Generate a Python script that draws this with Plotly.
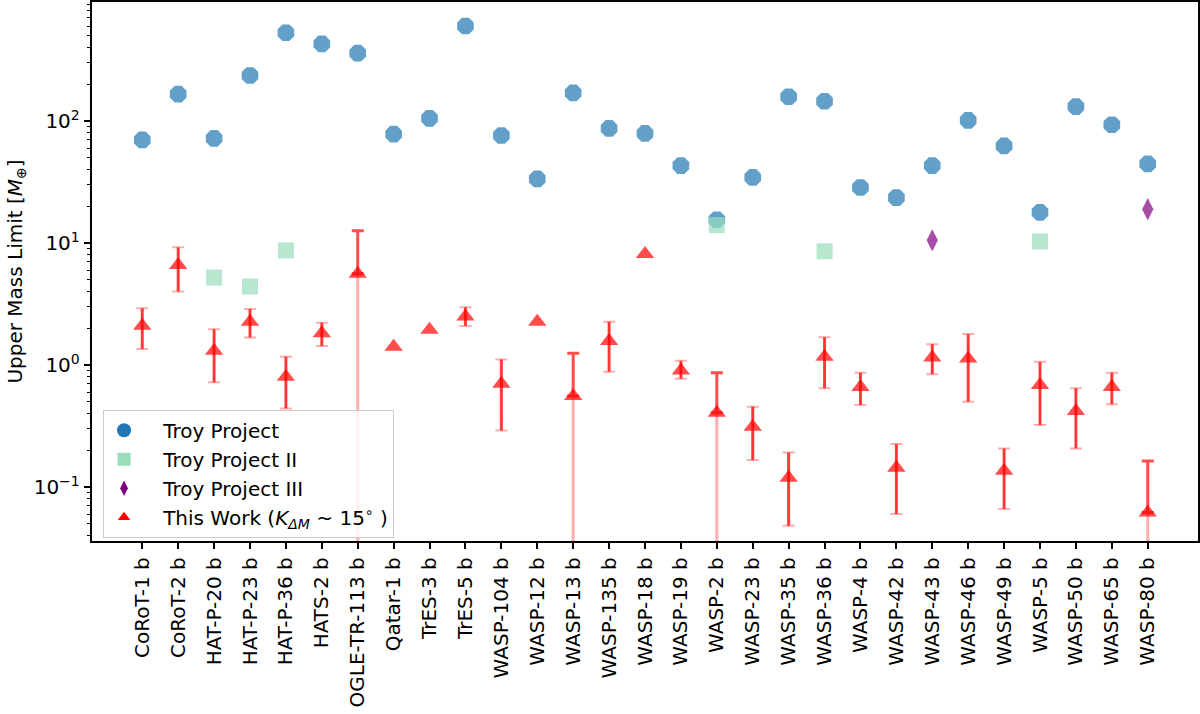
import plotly.graph_objects as go

# ---------------- data ----------------
planets = ["CoRoT-1 b", "CoRoT-2 b", "HAT-P-20 b", "HAT-P-23 b", "HAT-P-36 b", "HATS-2 b",
           "OGLE-TR-113 b", "Qatar-1 b", "TrES-3 b", "TrES-5 b", "WASP-104 b", "WASP-12 b",
           "WASP-13 b", "WASP-135 b", "WASP-18 b", "WASP-19 b", "WASP-2 b", "WASP-23 b",
           "WASP-35 b", "WASP-36 b", "WASP-4 b", "WASP-42 b", "WASP-43 b", "WASP-46 b",
           "WASP-49 b", "WASP-5 b", "WASP-50 b", "WASP-65 b", "WASP-80 b"]

troy_mass = [70, 166, 72, 236, 528, 428, 360, 78, 105, 600, 76, 33.5,
             170, 87, 79, 43, 15.5, 34.5, 158, 145, 28.5, 23.5, 43, 101,
             62.5, 17.8, 131, 93, 44.5]

troy2_mass = [None, None, 5.2, 4.4, 8.7, None, None, None, None, None, None, None,
              None, None, None, None, 14.0, None, None, 8.55, None, None, None, None,
              None, 10.3, None, None, None]

troy3_mass = [None] * 22 + [10.5] + [None] * 5 + [18.9]

work_mass = [2.1, 6.6, 1.31, 2.26, 0.80, 1.82, 5.6, 1.41, 1.94, 2.49, 0.70, 2.26,
             0.557, 1.57, 8.13, 0.90, 0.406, 0.312, 0.119, 1.17, 0.66, 0.144, 1.15, 1.13,
             0.136, 0.685, 0.42, 0.66, 0.0617]
# lower / upper ends of the error bars (0 = lower end below zero)
work_low = [1.35, 4.0, 0.72, 1.68, 0.44, 1.43, 0, None, None, 2.09, 0.29, None,
            0, 0.88, None, 0.77, 0, 0.166, 0.048, 0.644, 0.47, 0.060, 0.84, 0.50,
            0.066, 0.322, 0.207, 0.476, 0]
work_high = [2.92, 9.2, 1.96, 2.88, 1.17, 2.22, 12.6, None, None, 2.97, 1.11, None,
             1.25, 2.26, None, 1.08, 0.865, 0.455, 0.192, 1.69, 0.865, 0.225, 1.48, 1.79,
             0.207, 1.06, 0.644, 0.865, 0.163]

ytick_vals = [0.1, 1, 10, 100]
ytick_text = ["10<sup>\u22121</sup>", "10<sup>0</sup>", "10<sup>1</sup>", "10<sup>2</sup>"]

legend_names = ["Troy Project", "Troy Project II", "Troy Project III",
                "This Work (<i>K</i><sub><i>\u0394M</i></sub> ~ 15<sup>\u2218</sup> )"]

# ---------------- style ----------------
FONT = "DejaVu Sans"
FS = 20
BLUE = "rgba(31,119,180,0.7)"
GREEN = "rgba(153,221,187,0.7)"
PURPLE = "rgba(128,0,128,0.7)"
RED = "rgba(255,0,0,0.7)"
LIGHT_RED = "rgba(255,0,0,0.32)"
FLOOR = 1e-3

fig = go.Figure()


def sub(vals):
    xs = [p for p, v in zip(planets, vals) if v is not None]
    ys = [v for v in vals if v is not None]
    return xs, ys


x, y = sub(troy_mass)
fig.add_trace(go.Scatter(x=x, y=y, mode="markers", showlegend=False, hoverinfo="skip",
                         marker=dict(symbol="octagon", size=18, color=BLUE, line=dict(width=0))))
x, y = sub(troy2_mass)
fig.add_trace(go.Scatter(x=x, y=y, mode="markers", showlegend=False, hoverinfo="skip",
                         marker=dict(symbol="square", size=16, color=GREEN, line=dict(width=0))))
x, y = sub(troy3_mass)
fig.add_trace(go.Scatter(x=x, y=y, mode="markers", showlegend=False, hoverinfo="skip",
                         marker=dict(symbol="diamond-tall", size=16, color=PURPLE, line=dict(width=0))))

has_err = [i for i in range(len(planets)) if work_high[i] is not None]
normal = [i for i in has_err if work_low[i] > 0]
clipped = [i for i in has_err if work_low[i] <= 0]


def err_trace(idx, plus, minus, color, thick, width):
    return go.Scatter(
        x=[planets[i] for i in idx], y=[work_mass[i] for i in idx],
        mode="markers", marker=dict(size=1, opacity=0), showlegend=False, hoverinfo="skip",
        error_y=dict(type="data", symmetric=False, array=plus, arrayminus=minus,
                     color=color, thickness=thick, width=width))


# normal error bars: light full bar with caps, darker bar on top
fig.add_trace(err_trace(normal,
                        [work_high[i] - work_mass[i] for i in normal],
                        [work_mass[i] - work_low[i] for i in normal],
                        LIGHT_RED, 2, 6))
fig.add_trace(err_trace(normal,
                        [work_high[i] - work_mass[i] for i in normal],
                        [work_mass[i] - work_low[i] for i in normal],
                        RED, 3, 0))
# clipped error bars: light lower part to the bottom, dark upper part with cap
fig.add_trace(err_trace(clipped,
                        [0 for i in clipped],
                        [work_mass[i] - FLOOR for i in clipped],
                        LIGHT_RED, 3, 0))
fig.add_trace(err_trace(clipped,
                        [work_high[i] - work_mass[i] for i in clipped],
                        [0 for i in clipped],
                        RED, 3, 6))

fig.add_trace(go.Scatter(x=planets, y=work_mass, mode="markers", showlegend=False, hoverinfo="skip",
                         marker=dict(symbol="triangle-up", size=16, color=RED, line=dict(width=0))))

# legend entries
PAD = "\u00a0\u00a0\u00a0"
legend_markers = [
    dict(symbol="circle", size=14, color="rgb(31,119,180)"),
    dict(symbol="square", size=13, color="rgb(153,221,187)"),
    dict(symbol="diamond-tall", size=11, color="rgb(128,0,128)"),
    dict(symbol="triangle-up", size=11, color="rgb(255,0,0)"),
]
for name, mk in zip(legend_names, legend_markers):
    fig.add_trace(go.Scatter(x=[None], y=[None], mode="markers", name=PAD + name,
                             marker=dict(line=dict(width=0), **mk)))

minor_vals = [m * 10 ** k for k in range(-2, 3) for m in range(2, 10)]

fig.update_layout(
    width=1200, height=714,
    margin=dict(l=92, r=2, t=2, b=173),
    paper_bgcolor="white", plot_bgcolor="white",
    font=dict(family=FONT, size=FS, color="black"),
    legend=dict(x=0.01, y=0.006, xanchor="left", yanchor="bottom",
                bgcolor="rgba(255,255,255,0.8)", bordercolor="#cccccc", borderwidth=1,
                font=dict(family=FONT, size=FS), traceorder="normal"),
)
fig.update_xaxes(type="category", categoryorder="array", categoryarray=planets,
                 range=[-1.4, 29.4], tickangle=-90, tickfont=dict(size=FS),
                 ticks="outside", ticklen=6.5, tickwidth=1.5, tickcolor="black",
                 showline=True, mirror=True, linecolor="black", linewidth=1.5,
                 showgrid=False, zeroline=False, automargin=False)
fig.update_yaxes(type="log", range=[-1.443, 2.975],
                 tickmode="array", tickvals=ytick_vals, ticktext=ytick_text,
                 tickfont=dict(size=FS),
                 ticks="outside", ticklen=6.5, tickwidth=1.5, tickcolor="black",
                 minor=dict(tickmode="array", tickvals=minor_vals, ticks="outside",
                            ticklen=3.7, tickwidth=1.1, tickcolor="black", showgrid=False),
                 showline=True, mirror=True, linecolor="black", linewidth=1.5,
                 showgrid=False, zeroline=False, automargin=False,
                 title=dict(text="Upper Mass Limit [<i>M</i><sub>\u2295</sub>]",
                            font=dict(size=FS), standoff=6))

fig.write_html("out.html",
               config={"displayModeBar": False},
               post_script="document.body.style.margin='0';document.body.style.overflow='hidden';")
